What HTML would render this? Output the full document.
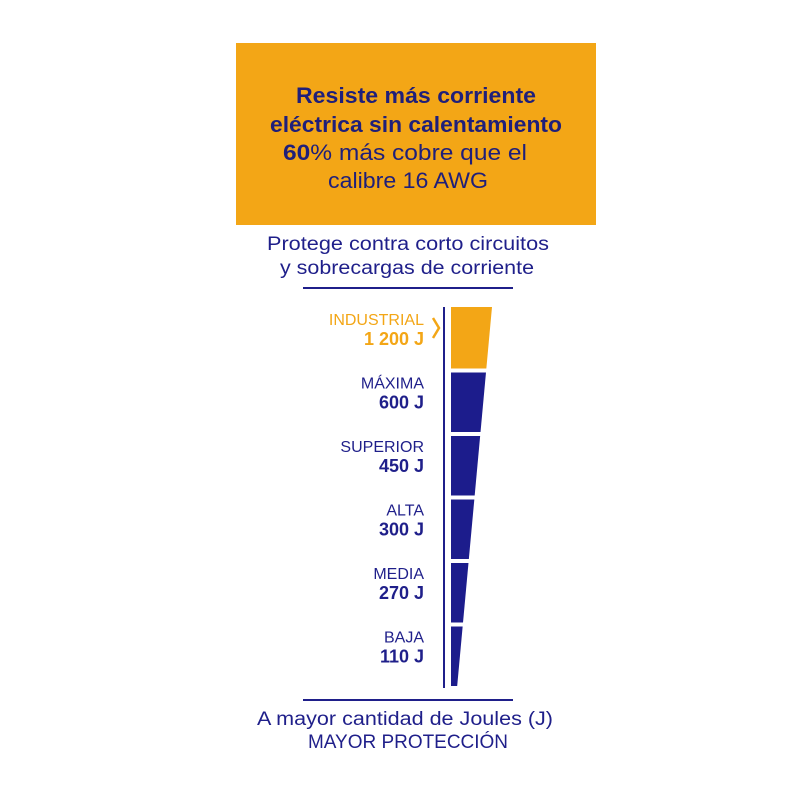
<!DOCTYPE html>
<html><head><meta charset="utf-8"><style>
html,body{margin:0;padding:0;background:#fff}
svg{display:block}
text{font-family:"Liberation Sans","DejaVu Sans",sans-serif}
</style></head><body>
<svg width="800" height="800" viewBox="0 0 800 800">
<rect x="236" y="43" width="360" height="182" fill="#f3a616"/>
<g fill="#1f1f7a" text-anchor="middle" font-size="22">
<text x="416" y="103" font-weight="bold" textLength="240" lengthAdjust="spacingAndGlyphs">Resiste más corriente</text>
<text x="416" y="132" font-weight="bold" textLength="292" lengthAdjust="spacingAndGlyphs">eléctrica sin calentamiento</text>
<text x="405" y="160" textLength="244" lengthAdjust="spacingAndGlyphs"><tspan font-weight="bold">60</tspan>% más cobre que el</text>
<text x="408" y="188" textLength="160" lengthAdjust="spacingAndGlyphs">calibre 16 AWG</text>
</g>
<g fill="#1f1f8a" text-anchor="middle" font-size="19">
<text x="408" y="250" textLength="282" lengthAdjust="spacingAndGlyphs">Protege contra corto circuitos</text>
<text x="407" y="274" textLength="254" lengthAdjust="spacingAndGlyphs">y sobrecargas de corriente</text>
</g>
<rect x="303" y="287" width="210" height="2" fill="#1f1f8a"/>
<rect x="443" y="307" width="2" height="381" fill="#1f1f8a"/>
<g id="chart"></g>
<rect x="303" y="699" width="210" height="2" fill="#1f1f8a"/>
<g fill="#1f1f8a" text-anchor="middle" font-size="19">
<text x="405" y="725" textLength="296" lengthAdjust="spacingAndGlyphs">A mayor cantidad de Joules (J)</text>
<text x="408" y="748" textLength="200" lengthAdjust="spacingAndGlyphs">MAYOR PROTECCIÓN</text>
</g>
</svg>
<script>
const categories = ["INDUSTRIAL","MÁXIMA","SUPERIOR","ALTA","MEDIA","BAJA"];
const values = [1200,600,450,300,270,110];
const valueLabels = ["1 200 J","600 J","450 J","300 J","270 J","110 J"];
const highlight = [true,false,false,false,false,false];

const NS="http://www.w3.org/2000/svg";
const g=document.getElementById('chart');
const top0=307, bottom0=688, leftX=451, topRight=492, botRight=457;
const n=categories.length;
const rowH=(bottom0-top0)/n;
function rightAt(y){return topRight-(y-top0)*(topRight-botRight)/(bottom0-top0);}
categories.forEach((c,i)=>{
  const y0=top0+i*rowH+(i?2:0), y1=top0+(i+1)*rowH-2;
  const col=highlight[i]?"#f3a616":"#1c1c8c";
  const p=document.createElementNS(NS,'polygon');
  p.setAttribute('points',`${leftX},${y0} ${rightAt(y0)},${y0} ${rightAt(y1)},${y1} ${leftX},${y1}`);
  p.setAttribute('fill',col);
  
  
  g.appendChild(p);
  const lab=document.createElementNS(NS,'text');
  lab.setAttribute('x',424);lab.setAttribute('y',top0+i*rowH+18);
  lab.setAttribute('text-anchor','end');lab.setAttribute('font-size','16');
  lab.setAttribute('fill',highlight[i]?"#f3a616":"#1f1f8a");
  lab.textContent=c;
  
  
  g.appendChild(lab);
  const v=document.createElementNS(NS,'text');
  v.setAttribute('x',424);v.setAttribute('y',top0+i*rowH+38);
  v.setAttribute('text-anchor','end');v.setAttribute('font-size','18');v.setAttribute('font-weight','bold');
  v.setAttribute('fill',highlight[i]?"#f3a616":"#1f1f8a");
  v.textContent=valueLabels[i];
  
  
  g.appendChild(v);
  if(highlight[i]){
    const ch=document.createElementNS(NS,'polyline');
    const cy=top0+i*rowH+21;
    ch.setAttribute('points',`433,${cy-10} 439,${cy} 433,${cy+10}`);
    ch.setAttribute('fill','none');ch.setAttribute('stroke','#f3a616');ch.setAttribute('stroke-width','2.5');
    
    
    g.appendChild(ch);
  }
});
</script>
</body></html>
